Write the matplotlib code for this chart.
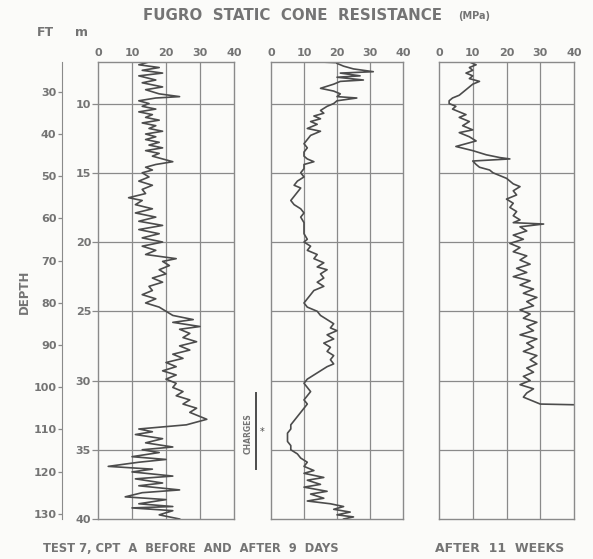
import numpy as np
import matplotlib.pyplot as plt

# cone resistance (MPa) against depth (m)
depth_a = [7.0, 7.2, 7.4, 7.6, 7.8, 8.0, 8.3, 8.5, 8.8, 9.0, 9.3, 9.5, 9.6, 9.8,
           10.0, 10.2, 10.4, 10.6, 10.8, 11.0, 11.2, 11.4, 11.6, 11.8, 12.0, 12.2,
           12.4, 12.6, 12.8, 13.0, 13.2, 13.4, 13.6, 13.8, 14.0, 14.2, 14.4, 14.6,
           14.8, 15.0, 15.3, 15.6, 15.9, 16.2, 16.5, 16.8, 17.0, 17.3, 17.6, 17.9,
           18.2, 18.5, 18.8, 19.1, 19.4, 19.7, 20.0, 20.3, 20.6, 20.9, 21.2, 21.4,
           21.7, 22.0, 22.3, 22.6, 22.9, 23.2, 23.5, 23.8, 24.1, 24.4, 24.7, 25.0,
           25.3, 25.6, 25.8, 26.1, 26.3, 26.6, 26.9, 27.2, 27.5, 27.8, 28.1, 28.4,
           28.7, 29.0, 29.3, 29.6, 29.9, 30.2, 30.5, 30.8, 31.1, 31.4, 31.7, 32.0,
           32.3, 32.6, 32.8, 33.0, 33.2, 33.5, 33.7, 33.9, 34.2, 34.5, 34.8, 35.0,
           35.2, 35.5, 35.7, 35.9, 36.2, 36.4, 36.6, 36.9, 37.1, 37.4, 37.6, 37.9,
           38.1, 38.4, 38.6, 38.9, 39.1, 39.2, 39.4, 39.7, 40.0]
qc_a = [15, 12, 18, 13, 19, 12, 17, 13, 19, 14, 18, 24, 17, 12,
        15, 13, 17, 12, 16, 14, 18, 13, 17, 15, 19, 14,
        17, 14, 18, 15, 19, 14, 18, 16, 19, 22, 17, 14,
        16, 13, 15, 12, 16, 13, 14, 9, 13, 11, 16, 11,
        17, 12, 19, 12, 18, 13, 19, 13, 17, 14, 23, 19,
        21, 18, 20, 16, 19, 15, 16, 13, 17, 14, 18, 20,
        22, 28, 22, 30, 24, 27, 25, 29, 24, 27, 22, 25,
        20, 23, 19, 23, 20, 23, 22, 25, 23, 27, 25, 29,
        27, 30, 32, 29, 26, 12, 16, 11, 19, 14, 22, 13,
        18, 10, 20, 12, 3, 16, 10, 22, 11, 19, 12, 24,
        13, 8, 20, 12, 22, 10, 22, 18, 24]

depth_b = [7.0, 7.05, 7.1, 7.3, 7.5, 7.7, 7.8, 8.0, 8.1, 8.3, 8.4, 8.6, 8.9, 9.1,
           9.3, 9.5, 9.6, 9.8, 10.0, 10.2, 10.5, 10.7, 10.9, 11.1, 11.3, 11.5,
           11.8, 12.0, 12.3, 12.6, 12.9, 13.2, 13.5, 13.8, 14.0, 14.2, 14.4, 14.7,
           15.0, 15.3, 15.6, 15.9, 16.1, 16.4, 16.7, 17.0, 17.3, 17.6, 17.9, 18.2,
           18.6, 19.0, 19.4, 19.8, 20.0, 20.3, 20.6, 20.9, 21.2, 21.5, 21.8, 22.0,
           22.3, 22.6, 22.9, 23.2, 23.5, 23.8, 24.1, 24.4, 24.7, 25.0, 25.3, 25.6,
           25.9, 26.2, 26.4, 26.7, 27.0, 27.3, 27.6, 27.9, 28.2, 28.5, 28.8, 29.0,
           29.3, 29.6, 29.9, 30.2, 30.5, 30.8, 31.1, 31.4, 31.7, 32.0, 32.3, 32.6,
           32.9, 33.2, 33.5, 33.8, 34.1, 34.4, 34.7, 35.0, 35.3, 35.6, 35.9, 36.2,
           36.5, 36.7, 37.0, 37.2, 37.5, 37.7, 38.0, 38.2, 38.5, 38.7, 38.9, 39.1,
           39.3, 39.5, 39.7, 39.85, 40.0]
qc_b = [15, 20, 20, 22, 25, 31, 21, 27, 20, 28, 21, 19, 15, 19,
        21, 20, 26, 20, 19, 17, 15, 16, 13, 15, 12, 14,
        11, 15, 12, 11, 10, 11, 10, 10, 11, 13, 10, 10,
        9, 10, 8, 7, 9, 8, 7, 6, 7, 9, 10, 9,
        10, 10, 10, 11, 10, 12, 11, 14, 13, 16, 14, 17,
        15, 16, 14, 16, 13, 12, 11, 10, 11, 14, 15, 17,
        19, 18, 20, 17, 19, 16, 18, 17, 19, 18, 19, 17,
        15, 13, 11, 10, 11, 12, 11, 10, 11, 10, 9, 8,
        7, 6, 6, 5, 5, 5, 6, 6, 8, 9, 11, 10,
        13, 10, 16, 11, 15, 10, 17, 12, 16, 11, 18, 22,
        19, 24, 20, 25, 22]

depth_c = [7.0, 7.2, 7.4, 7.6, 7.8, 8.0, 8.2, 8.4, 8.6, 8.8, 9.0, 9.2, 9.4, 9.6,
           9.8, 10.0, 10.2, 10.4, 10.6, 10.8, 11.0, 11.3, 11.6, 11.9, 12.1, 12.4,
           12.7, 12.9, 13.1, 13.4, 13.7, 13.9, 14.0, 14.15, 14.4, 14.6, 14.8, 15.0,
           15.2, 15.4, 15.6, 15.8, 16.0, 16.3, 16.6, 16.9, 17.2, 17.5, 17.8, 18.1,
           18.4, 18.6, 18.7, 18.9, 19.2, 19.5, 19.8, 20.1, 20.4, 20.7, 21.0, 21.3,
           21.6, 21.9, 22.2, 22.5, 22.8, 23.1, 23.4, 23.7, 24.0, 24.3, 24.6, 24.9,
           25.2, 25.5, 25.8, 26.1, 26.4, 26.7, 27.0, 27.3, 27.6, 27.9, 28.2, 28.5,
           28.8, 29.1, 29.4, 29.7, 30.0, 30.3, 30.6, 30.9, 31.2, 31.5, 31.7, 31.75]
qc_c = [9, 11, 9, 10, 8, 10, 9, 12, 10, 9, 8, 7, 6, 4,
        3, 3, 5, 4, 6, 8, 6, 9, 7, 10, 6, 9,
        11, 8, 5, 10, 14, 18, 21, 10, 11, 12, 15, 16,
        18, 20, 21, 22, 24, 22, 23, 20, 22, 21, 23, 22,
        24, 22, 31, 24, 26, 22, 25, 21, 24, 22, 26, 24,
        27, 23, 26, 22, 27, 24, 28, 25, 29, 26, 28, 24,
        27, 25, 29, 26, 28, 24, 29, 26, 28, 25, 29, 27,
        29, 26, 28, 25, 27, 24, 28, 26, 25, 28, 30, 40]

qc_ticks = [0, 10, 20, 30, 40]
m_ticks = [10, 15, 20, 25, 30, 35, 40]
ft_ticks = [30, 40, 50, 60, 70, 80, 90, 100, 110, 120, 130]

ink = '#4c4c4c'
txt = '#747474'
grid = '#8a8a8a'
bg = '#fbfbf9'

fig = plt.figure(figsize=(5.93, 5.59), dpi=100, facecolor=bg)
W, H = 593, 559
top, bot = 62, 519


def box(x0, x1):
    return [x0 / W, 1 - bot / H, (x1 - x0) / W, (bot - top) / H]


panels = [(98, 234, depth_a, qc_a), (271, 403, depth_b, qc_b), (439, 574, depth_c, qc_c)]
axes = []
for i, (x0, x1, d, q) in enumerate(panels):
    ax = fig.add_axes(box(x0, x1))
    ax.set_facecolor(bg)
    ax.plot(q, d, color=ink, lw=1.2)
    ax.set_xlim(0, 40)
    ax.set_ylim(40, 7)
    ax.xaxis.tick_top()
    ax.set_xticks(qc_ticks)
    ax.set_yticks(m_ticks)
    ax.tick_params(axis='x', length=0, pad=3, labelsize=8, labelcolor=txt)
    for lab in ax.get_xticklabels() + ax.get_yticklabels():
        lab.set_fontweight('bold')
    for v in [10, 20, 30]:
        ax.axvline(v, color=grid, lw=0.9, zorder=0)
    for v in [10, 15, 20, 25, 30, 35]:
        ax.axhline(v, color=grid, lw=0.9, zorder=0)
    for s in ax.spines.values():
        s.set_color(grid)
        s.set_linewidth(1.0)
    if i == 0:
        ax.tick_params(axis='y', length=4, width=0.9, color=grid, pad=1,
                       labelsize=8, labelcolor=txt)
    else:
        ax.tick_params(axis='y', length=0, labelleft=False)
    axes.append(ax)

# depth in feet on a separate spine
axf = fig.add_axes(box(62, 63))
axf.set_facecolor('none')
axf.set_ylim(40 / 0.3048, 7 / 0.3048)
axf.set_xticks([])
axf.set_yticks(ft_ticks)
for k in ['top', 'right', 'bottom']:
    axf.spines[k].set_visible(False)
axf.spines['left'].set_color(grid)
axf.tick_params(axis='y', length=3, width=0.9, color=grid, pad=1,
                labelsize=8, labelcolor=txt)
for lab in axf.get_yticklabels():
    lab.set_fontweight('bold')

# charges marker beside the second log
ax2 = axes[1]
ax2.plot([-4.5, -4.5], [30.9, 36.4], color=ink, lw=1.4, clip_on=False)
ax2.text(-6.8, 33.8, 'CHARGES', rotation=90, ha='center', va='center',
         fontsize=5.5, color=txt, fontweight='bold')
ax2.text(-2.6, 33.7, '*', ha='center', va='center', fontsize=7, color=ink)

fig.text(143 / W, 1 - 16 / H, 'FUGRO  STATIC  CONE  RESISTANCE', ha='left',
         va='center', fontsize=10.8, color=txt, fontweight='bold')
fig.text(474 / W, 1 - 16 / H, '(MPa)', ha='center', va='center', fontsize=7,
         color=txt, fontweight='bold')
fig.text(45 / W, 1 - 33 / H, 'FT', ha='center', va='center', fontsize=9,
         color=txt, fontweight='bold')
fig.text(82 / W, 1 - 33 / H, 'm', ha='center', va='center', fontsize=9,
         color=txt, fontweight='bold')
fig.text(24 / W, 1 - 292 / H, 'DEPTH', rotation=90, ha='center', va='center',
         fontsize=8.5, color=txt, fontweight='bold')
fig.text(191 / W, 1 - 548 / H, 'TEST 7, CPT  A  BEFORE  AND  AFTER  9  DAYS',
         ha='center', va='center', fontsize=8.3, color=txt, fontweight='bold')
fig.text(500 / W, 1 - 548 / H, 'AFTER  11  WEEKS', ha='center', va='center',
         fontsize=9, color=txt, fontweight='bold')

fig.savefig('out.png', dpi=100, facecolor=bg)
